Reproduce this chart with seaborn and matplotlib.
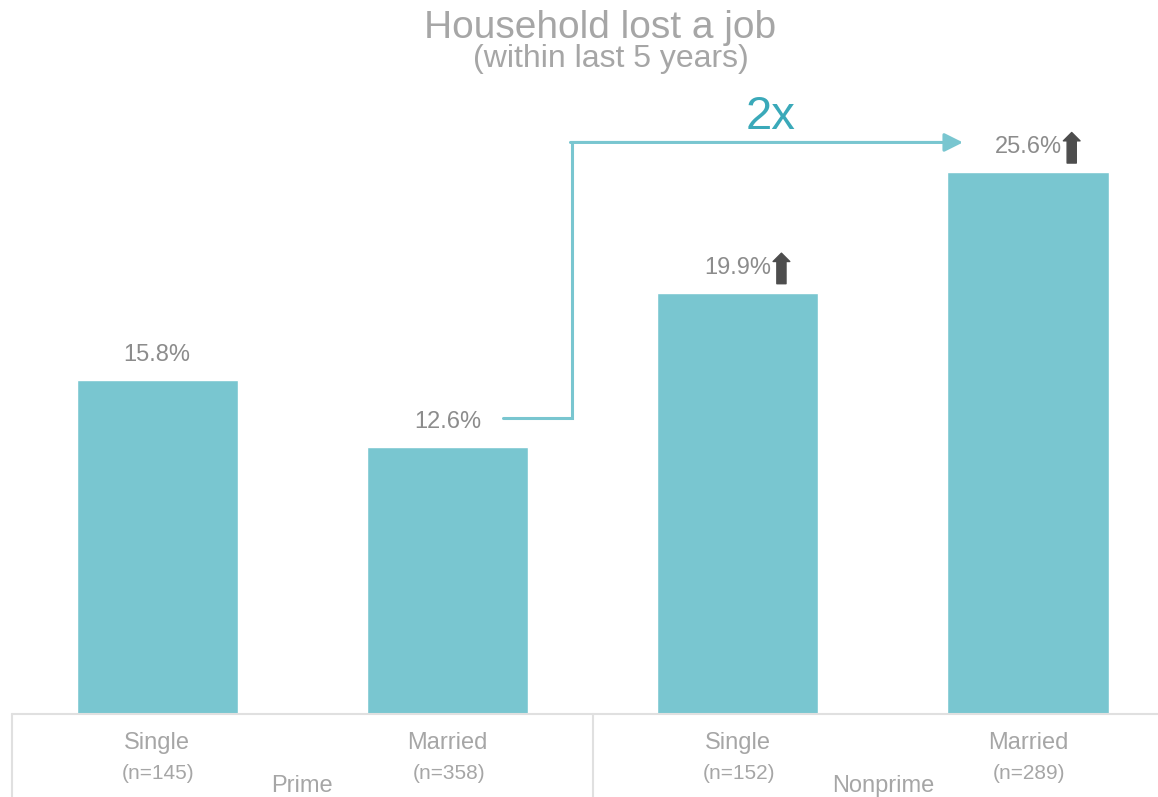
import matplotlib
matplotlib.use("Agg")
import matplotlib.pyplot as plt
from matplotlib.transforms import offset_copy
import seaborn as sns
import pandas as pd

# chart data
segments = ["Prime", "Nonprime"]
statuses = ["Single", "Married", "Single", "Married"]
sample_sizes = ["(n=145)", "(n=358)", "(n=152)", "(n=289)"]
lost_job_pct = [15.8, 12.6, 19.9, 25.6]
up_flags = [False, False, True, True]

BAR = "#79c6d0"
TEXT = "#a6a6a6"
VALUE = "#8c8c8c"
LINE = "#e0e0e0"

sns.set_theme(style="white")
plt.rcParams["font.family"] = ["Liberation Sans", "DejaVu Sans"]

df = pd.DataFrame({
    "bar": [f"{s}\n{n}" for s, n in zip(statuses, sample_sizes)],
    "pct": lost_job_pct,
})

fig = plt.figure(figsize=(11.58, 7.97), dpi=100)
ax = fig.add_axes([12 / 1158, 83 / 797, 1146 / 1158, 634 / 797])
sns.barplot(data=df, x="bar", y="pct", color=BAR, width=0.555,
            saturation=1, ax=ax)

ax.set_xlim(-0.5, 3.448)
ax.set_ylim(0, 29.95)
ax.set_xticks([])
ax.set_yticks([])
ax.set_xlabel("")
ax.set_ylabel("")
for sp in ax.spines.values():
    sp.set_visible(False)

# value labels (+ up arrows)
arrow_base = offset_copy(ax.transData, fig=fig, x=31.5, y=6.5, units="points")
arrow_tip = offset_copy(ax.transData, fig=fig, x=31.5, y=28.5, units="points")
for i, (v, up) in enumerate(zip(lost_job_pct, up_flags)):
    ax.annotate(f"{v}%", (i, v), xytext=(0, 18), textcoords="offset points",
                ha="center", va="center", fontsize=17, color=VALUE)
    if up:
        ax.annotate("", xy=(i, v), xycoords=arrow_tip,
                    xytext=(i, v), textcoords=arrow_base,
                    arrowprops=dict(arrowstyle="simple,head_length=0.5,head_width=1.0,tail_width=0.55",
                                    color="#4d4d4d", mutation_scale=12,
                                    shrinkA=0, shrinkB=0),
                    annotation_clip=False)

# bottom table lines
xt = ax.get_xaxis_transform()
ax.axhline(0, color=LINE, lw=1.5, clip_on=False)
for xv in [-0.5, 1.5]:
    ax.plot([xv, xv], [0, -0.2], transform=xt, color=LINE, lw=1.5, clip_on=False)

# category labels
for i, (s, n) in enumerate(zip(statuses, sample_sizes)):
    ax.annotate(s, (i, 0), xytext=(0, -21), textcoords="offset points",
                ha="center", va="center", fontsize=17, color=TEXT,
                annotation_clip=False)
    ax.annotate(n, (i, 0), xytext=(1, -43), textcoords="offset points",
                ha="center", va="center", fontsize=15, color=TEXT,
                annotation_clip=False)
for k, seg in enumerate(segments):
    ax.annotate(seg, (2 * k + 0.5, 0), xytext=(0, -52), textcoords="offset points",
                ha="center", va="center", fontsize=17, color=TEXT,
                annotation_clip=False)

# connector arrow from Prime Married to Nonprime Married
y_start = lost_job_pct[1] + 1.4
y_top = lost_job_pct[3] + 1.4
x0, x1, x2 = 1.193, 1.428, 2.776
ax.plot([x0, x1, x1], [y_start, y_start, y_top], color=BAR, lw=2.2,
        clip_on=False, solid_joinstyle="miter")
ax.annotate("", xy=(x2, y_top), xytext=(x1 - 0.004, y_top),
            arrowprops=dict(arrowstyle="-|>,head_length=0.7,head_width=0.35",
                            color=BAR, lw=2.2, mutation_scale=16,
                            shrinkA=0, shrinkB=0),
            annotation_clip=False)
ax.text(2.114, y_top + 1.2, "2x", ha="center", va="center", fontsize=34,
        color="#3aa9b9", clip_on=False)

# titles
fig.text(600 / 1158, 1 - 28 / 797, "Household lost a job", ha="center",
         va="center", fontsize=28, color=TEXT)
fig.text(611 / 1158, 1 - 59 / 797, "(within last 5 years)", ha="center",
         va="center", fontsize=23, color=TEXT)

fig.savefig("out.png", dpi=100)
